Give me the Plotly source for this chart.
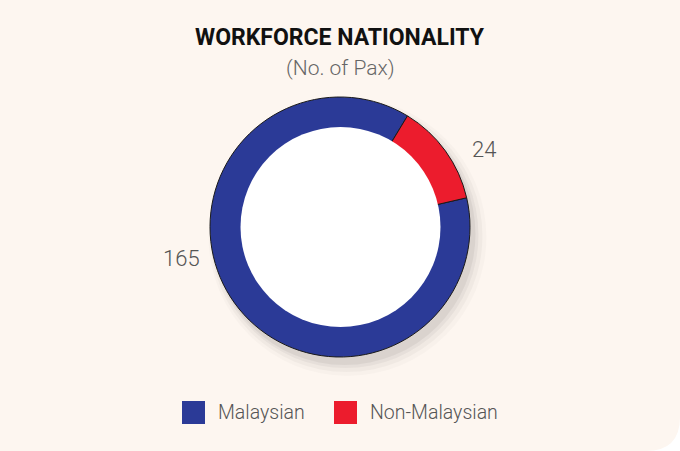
import plotly.graph_objects as go

# Data
labels = ["Malaysian", "Non-Malaysian"]
values = [165, 24]
colors = ["#2b3a97", "#ec1c2d"]

W, H = 680, 451
BG = "#fdf6f0"
CX, CY, R_OUT, R_IN = 340.5, 227, 130, 100


def px(x):
    return x / W


def py(y):
    return 1 - y / H


fig = go.Figure()

# full pie, the white centre is laid on top so the inner edge has no outline
fig.add_trace(go.Pie(
    labels=labels,
    values=values,
    marker=dict(colors=colors, line=dict(color="#1a1a1a", width=1)),
    sort=False,
    direction="clockwise",
    rotation=77,
    textinfo="none",
    hoverinfo="label+value",
    showlegend=False,
    domain=dict(x=[0, 1], y=[py(CY + R_OUT), py(CY - R_OUT)]),
))

shapes = []

# soft shadow behind the ring
for off, extra, op in [(7, 9, 0.02), (6, 6, 0.03), (5, 3, 0.04), (4, 1, 0.05)]:
    shapes.append(dict(
        type="circle", xref="paper", yref="paper", layer="below",
        x0=px(CX + off - R_OUT - extra), x1=px(CX + off + R_OUT + extra),
        y0=py(CY + off + 3 + R_OUT + extra), y1=py(CY + off + 3 - R_OUT - extra),
        fillcolor=f"rgba(0,0,0,{op})", line=dict(width=0),
    ))

# white inner hole
shapes.append(dict(
    type="circle", xref="paper", yref="paper", layer="above",
    x0=px(CX - R_IN), x1=px(CX + R_IN),
    y0=py(CY + R_IN), y1=py(CY - R_IN),
    fillcolor="white", line=dict(width=0),
))

# rounded bottom-right corner of the card
shapes.append(dict(
    type="path", xref="paper", yref="paper", layer="above",
    xsizemode="pixel", ysizemode="pixel", xanchor=1, yanchor=0,
    path="M -34,0 Q 0,0 0,34 L 1,34 L 1,-1 L -34,-1 Z",
    fillcolor="white", line=dict(width=0),
))

# legend squares
legend_items = [(182, labels[0], colors[0]), (334, labels[1], colors[1])]
for x0, name, c in legend_items:
    shapes.append(dict(
        type="rect", xref="paper", yref="paper",
        x0=px(x0), x1=px(x0 + 23), y0=py(424), y1=py(401),
        fillcolor=c, line=dict(width=0),
    ))

annotations = [
    dict(text="<b>WORKFORCE NATIONALITY</b>", x=px(340), y=py(37),
         font=dict(family="Roboto", size=23, color="#111111")),
    dict(text="(No. of Pax)", x=px(340), y=py(68),
         font=dict(family="Roboto", size=21, color="#666666", weight=300)),
    dict(text=str(values[0]), x=px(181), y=py(258),
         font=dict(family="Roboto", size=22, color="#555555", weight=300)),
    dict(text=str(values[1]), x=px(484), y=py(150),
         font=dict(family="Roboto", size=22, color="#555555", weight=300)),
]
for x0, name, c in legend_items:
    annotations.append(dict(
        text=name, x=px(x0 + 34), y=py(412), xanchor="left",
        font=dict(family="Roboto", size=19.5, color="#555555", weight=300),
    ))
for a in annotations:
    a.update(xref="paper", yref="paper", showarrow=False)
    a.setdefault("xanchor", "center")
    a.setdefault("yanchor", "middle")

fig.update_layout(
    width=W,
    height=H,
    margin=dict(l=0, r=0, t=0, b=0),
    paper_bgcolor=BG,
    plot_bgcolor=BG,
    shapes=shapes,
    annotations=annotations,
    showlegend=False,
)

fig.write_html("out.html", config={"displayModeBar": False},
               post_script="document.body.style.margin='0';")
